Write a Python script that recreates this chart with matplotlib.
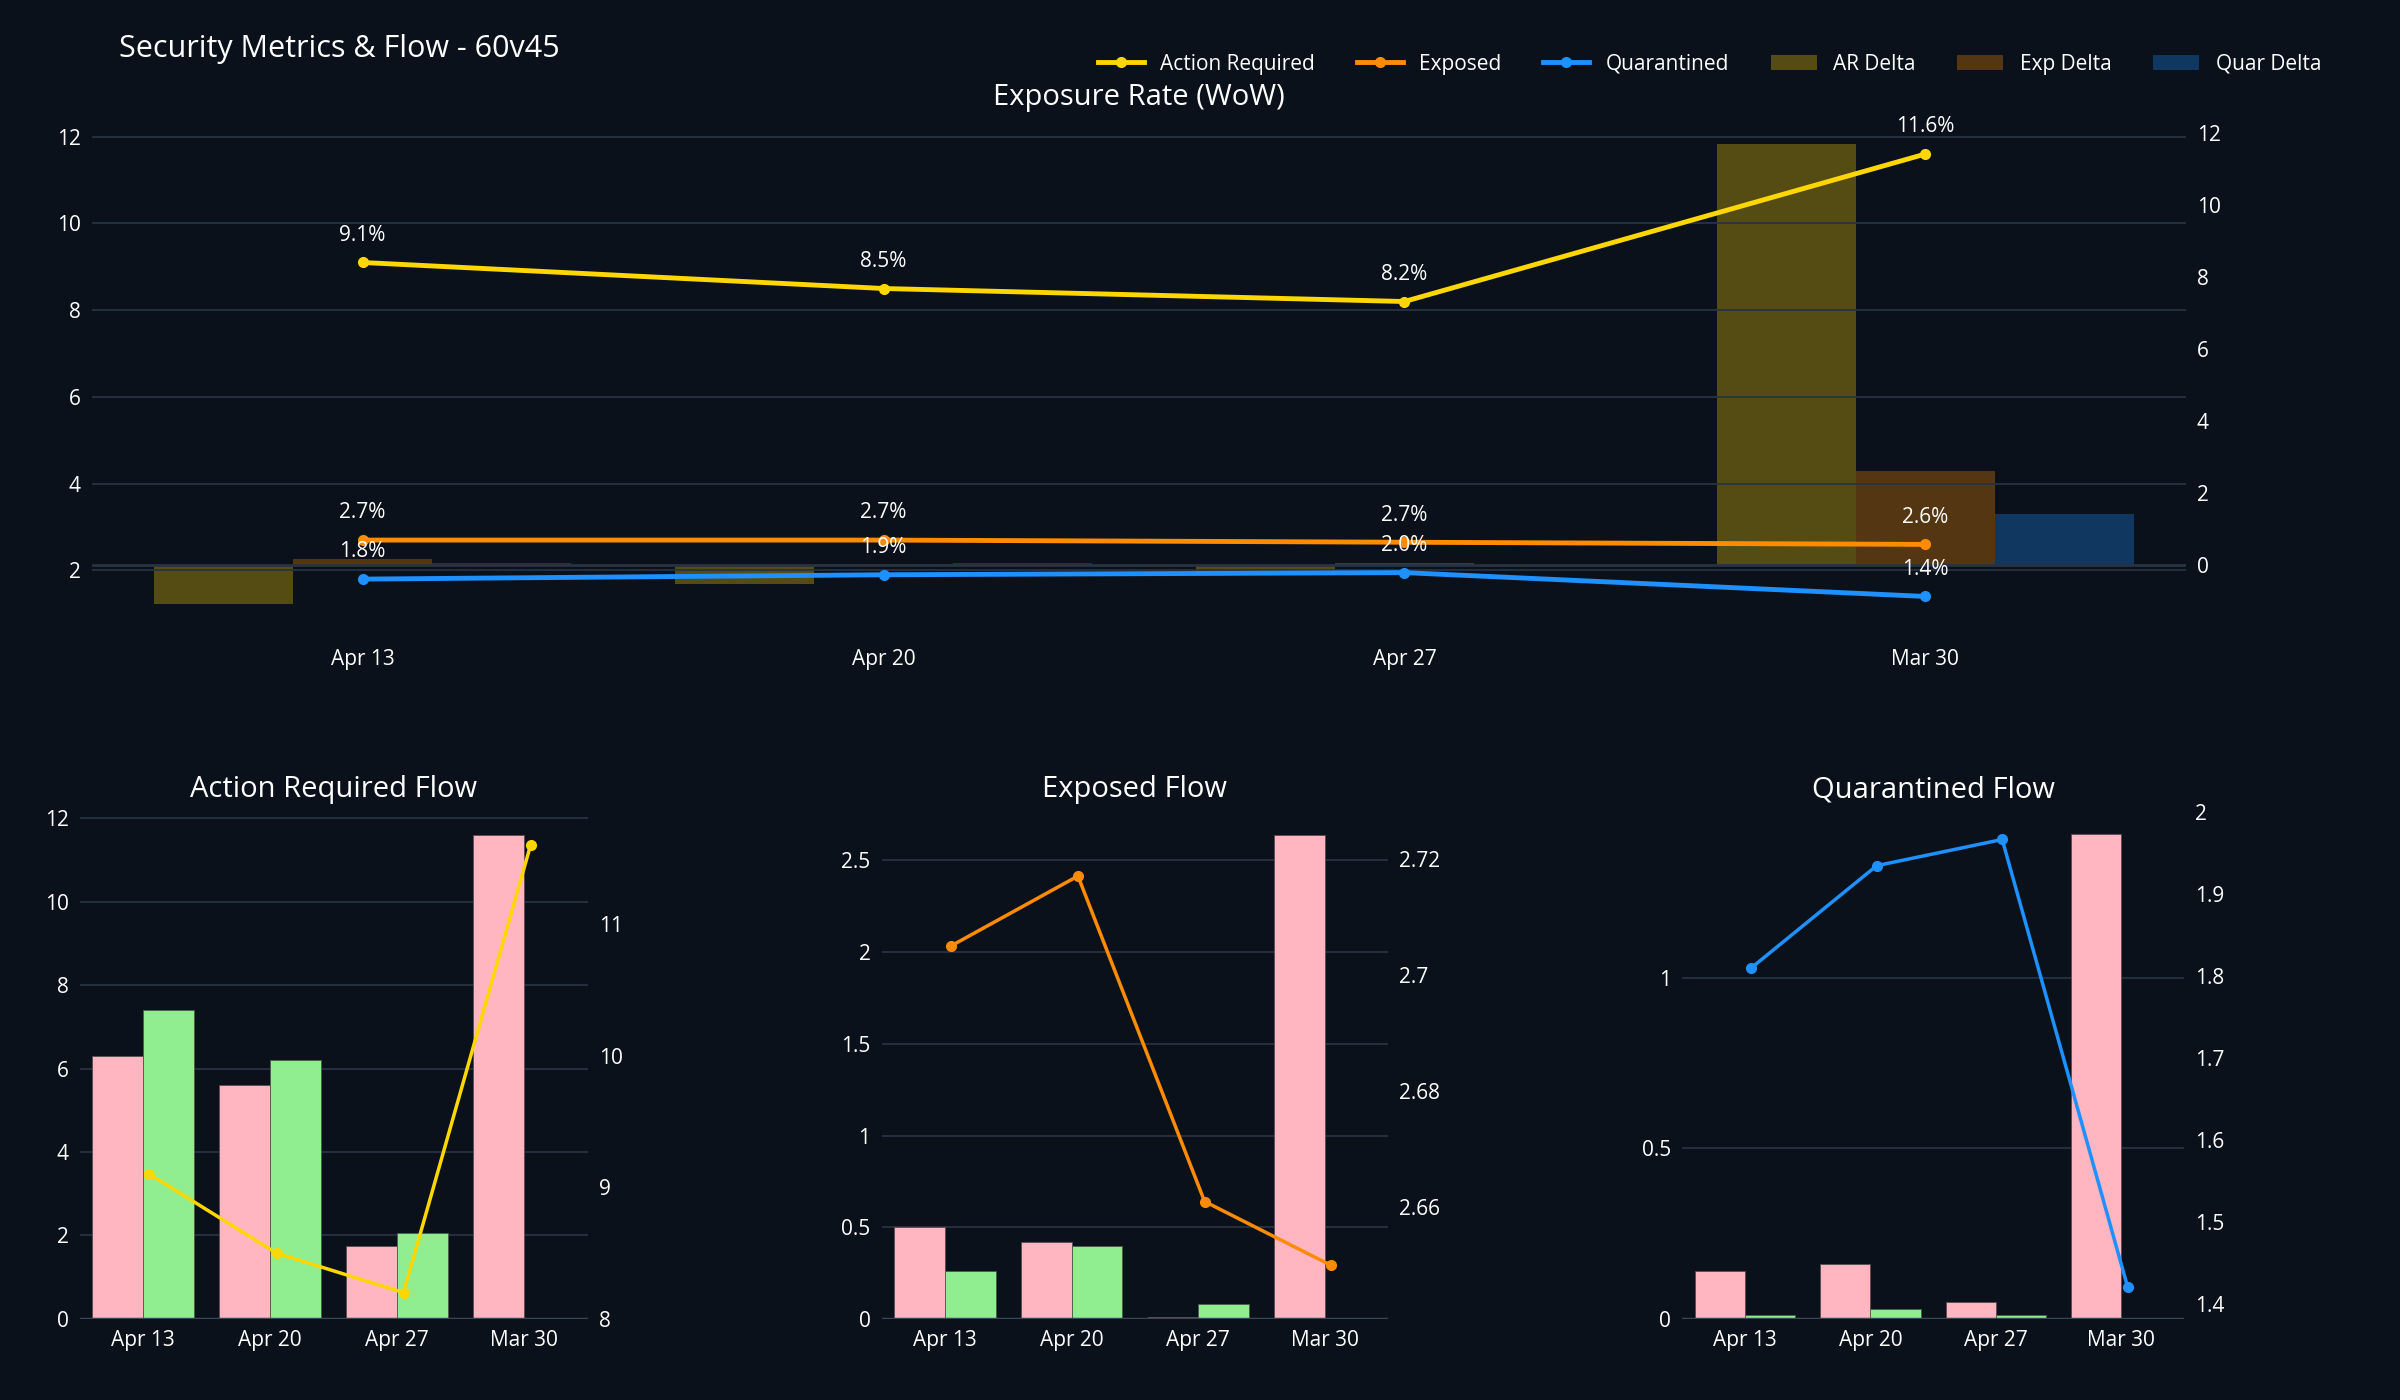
import matplotlib.pyplot as plt
import numpy as np

plt.rcParams['font.family'] = ['Open Sans', 'DejaVu Sans']

weeks = ["Apr 13", "Apr 20", "Apr 27", "Mar 30"]

# exposure rates (%)
ar_rate = [9.1, 8.5, 8.2, 11.6]
exp_rate = [2.7, 2.7, 2.65, 2.6]
quar_rate = [1.8, 1.9, 1.95, 1.4]
ar_label = ["9.1%", "8.5%", "8.2%", "11.6%"]
exp_label = ["2.7%", "2.7%", "2.7%", "2.6%"]
quar_label = ["1.8%", "1.9%", "2.0%", "1.4%"]

# week over week deltas
ar_delta = [-1.1, -0.55, -0.3, 11.7]
exp_delta = [0.15, 0.02, 0.05, 2.6]
quar_delta = [0.05, 0.05, -0.05, 1.4]

# flows: in (pink), out (green)
ar_in = [6.3, 5.6, 1.75, 11.6]
ar_out = [7.4, 6.2, 2.05, 0.0]
exp_in = [0.5, 0.42, 0.01, 2.64]
exp_out = [0.26, 0.4, 0.08, 0.0]
quar_in = [0.14, 0.16, 0.05, 1.42]
quar_out = [0.01, 0.03, 0.01, 0.0]
exp_line = [2.705, 2.717, 2.661, 2.650]
quar_line = [1.81, 1.935, 1.967, 1.42]

BG = "#0b111a"
GRID = "#283242"
GOLD, ORANGE, BLUE = "#FFD700", "#FF8C00", "#1E90FF"
PINK, GREEN = "#FFB6C1", "#90EE90"
W, H = 1568.0, 915.0

fig = plt.figure(figsize=(24, 14), dpi=100, facecolor=BG)


def box(x0, y0, x1, y1):
    return [x0 / W, 1 - y1 / H, (x1 - x0) / W, (y1 - y0) / H]


def style(ax, right=False):
    ax.set_facecolor("none")
    for s in ax.spines.values():
        s.set_visible(False)
    ax.tick_params(colors="white", labelsize=15, length=0, pad=8)
    if not right:
        ax.grid(axis="y", color=GRID, lw=1.3)
        ax.set_axisbelow(True)


x = np.arange(len(weeks))

# ---- top panel ----
ax = fig.add_axes(box(60, 78, 1428, 404))
ax.set_facecolor(BG)
ax2 = ax.twinx()
style(ax)
style(ax2, right=True)
bw = 0.267
ax2.bar(x - bw, ar_delta, bw, color=GOLD, alpha=0.3, label="AR Delta")
ax2.bar(x, exp_delta, bw, color=ORANGE, alpha=0.3, label="Exp Delta")
ax2.bar(x + bw, quar_delta, bw, color=BLUE, alpha=0.3, label="Quar Delta")
ax2.axhline(0, color=GRID, lw=2)
ax2.set_ylim(-1.49, 12.38)
ax2.set_yticks(range(0, 13, 2))
ax.set_zorder(ax2.get_zorder() + 1)
ax.patch.set_visible(False)
for vals, labs, c, name in [(ar_rate, ar_label, GOLD, "Action Required"),
                            (exp_rate, exp_label, ORANGE, "Exposed"),
                            (quar_rate, quar_label, BLUE, "Quarantined")]:
    ax.plot(x, vals, color=c, lw=3.5, marker="o", ms=7, label=name)
    for xi, v, t in zip(x, vals, labs):
        ax.annotate(t, (xi, v), xytext=(0, 12), textcoords="offset points",
                    ha="center", va="bottom", color="white", fontsize=15)
ax.set_ylim(0.9, 12.4)
ax.set_yticks(range(2, 13, 2))
ax.set_xlim(-0.52, 3.5)
ax.set_xticks(x)
ax.set_xticklabels(weeks)
ax.tick_params(axis="x", pad=22)
ax.set_title("Exposure Rate (WoW)", color="white", fontsize=21, pad=10)
h1, l1 = ax.get_legend_handles_labels()
h2, l2 = ax2.get_legend_handles_labels()
fig.legend(h1 + h2, l1 + l2, loc="upper right", bbox_to_anchor=(0.975, 0.975),
           ncol=6, frameon=False, fontsize=15, labelcolor="white",
           handlelength=2.2, columnspacing=2.0)
fig.text(78 / W, 1 - 32 / H, "Security Metrics & Flow - 60v45", color="white",
         fontsize=22, va="center")

# ---- bottom panels ----
panels = [
    ("Action Required Flow", ar_in, ar_out, ar_rate, GOLD, (52, 384),
     (0, 12.18), range(0, 13, 2), (8, 11.86), [8, 9, 10, 11]),
    ("Exposed Flow", exp_in, exp_out, exp_line, ORANGE, (576, 907),
     (0, 2.77), [0, 0.5, 1, 1.5, 2, 2.5], (2.6408, 2.7282), [2.66, 2.68, 2.7, 2.72]),
    ("Quarantined Flow", quar_in, quar_out, quar_line, BLUE, (1099, 1427),
     (0, 1.489), [0, 0.5, 1], (1.3813, 2.0019), [1.4, 1.5, 1.6, 1.7, 1.8, 1.9, 2]),
]
for title, vin, vout, line, c, (x0, x1), yl, yt, yr, yrt in panels:
    a = fig.add_axes(box(x0, 530, x1, 862))
    a.set_facecolor(BG)
    b = a.twinx()
    style(a)
    style(b, right=True)
    a.bar(x - 0.2, vin, 0.4, color=PINK, edgecolor="#5a4a50", lw=0.6)
    a.bar(x + 0.2, vout, 0.4, color=GREEN, edgecolor="#4a5a4a", lw=0.6)
    a.axhline(0, color="#3a4556", lw=2.5)
    a.set_ylim(*yl)
    a.set_yticks(yt)
    a.set_yticklabels([f"{v:g}" for v in yt])
    a.set_xlim(-0.5, 3.5)
    a.set_xticks(x)
    a.set_xticklabels(weeks)
    b.plot(x + 0.05, line, color=c, lw=2.5, marker="o", ms=7)
    b.set_ylim(*yr)
    b.set_yticks(yrt)
    b.set_yticklabels([f"{v:g}" for v in yrt])
    a.set_title(title, color="white", fontsize=21, pad=10)

fig.savefig("out.png", facecolor=BG)
